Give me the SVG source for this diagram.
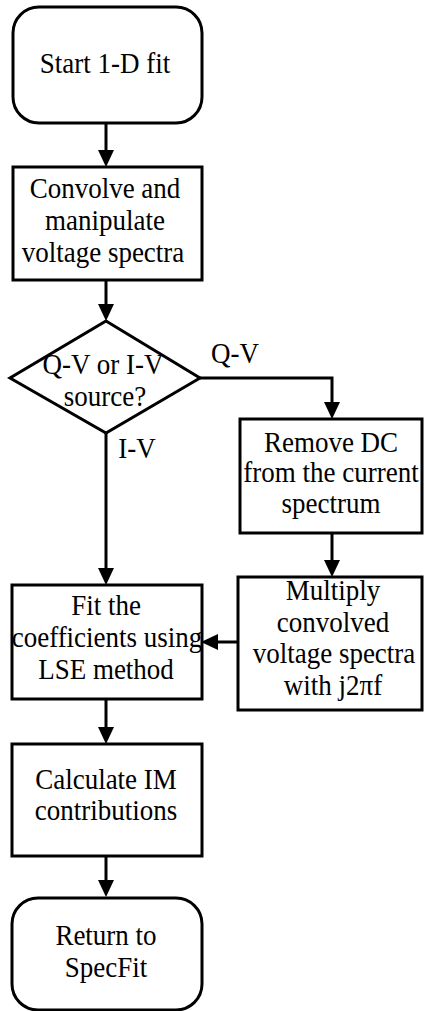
<svg xmlns="http://www.w3.org/2000/svg" width="424" height="1011" viewBox="0 0 424 1011">
<style>
.box{fill:#fff;stroke:#000;stroke-width:3}
.t{font-family:"Liberation Serif","Times New Roman",serif;font-size:27px;fill:#000;text-anchor:middle}
.c{fill:none;stroke:#000;stroke-width:3}
</style>
<defs>
<marker id="ah" markerUnits="userSpaceOnUse" markerWidth="17" markerHeight="17" refX="8" refY="8" orient="auto" viewBox="0 0 17 16">
<path d="M0,0 L17,8 L0,16 z" fill="#000"/>
</marker>
</defs>
<rect width="424" height="1011" fill="#fff"/>
<g id="start"><rect class="box" x="13" y="7" width="189" height="116" rx="26"/><text class="t" transform="translate(105,73) scale(1,1.1)">Start 1-D fit</text></g>
<g id="convolve"><rect class="box" x="13" y="167" width="189" height="113"/><text class="t" transform="translate(105,198) scale(1,1.1)">Convolve and</text><text class="t" transform="translate(105,230) scale(1,1.1)">manipulate</text><text class="t" transform="translate(103,262) scale(1,1.1)">voltage spectra</text></g>
<g id="decision"><polygon class="box" points="106,321 200,378 106,433 10,378"/><text class="t" transform="translate(103,374) scale(1,1.1)">Q-V or I-V</text><text class="t" transform="translate(105,406) scale(1,1.1)">source?</text></g>
<g id="removedc"><rect class="box" x="240" y="419" width="182" height="114"/><text class="t" transform="translate(331,452) scale(1,1.1)">Remove DC</text><text class="t" transform="translate(331,482) scale(1,1.1)">from the current</text><text class="t" transform="translate(331,513) scale(1,1.1)">spectrum</text></g>
<g id="multiply"><rect class="box" x="238" y="577" width="184" height="133"/><text class="t" transform="translate(333,600) scale(1,1.1)">Multiply</text><text class="t" transform="translate(333,632) scale(1,1.1)">convolved</text><text class="t" transform="translate(334,663) scale(1,1.1)">voltage spectra</text><text class="t" transform="translate(333,695) scale(1,1.1)">with j2πf</text></g>
<g id="fit"><rect class="box" x="12" y="585" width="190" height="114"/><text class="t" transform="translate(106,615) scale(1,1.1)">Fit the</text><text class="t" transform="translate(107,647) scale(1,1.1)">coefficients using</text><text class="t" transform="translate(106,679) scale(1,1.1)">LSE method</text></g>
<g id="calc"><rect class="box" x="12" y="744" width="190" height="112"/><text class="t" transform="translate(106,789) scale(1,1.1)">Calculate IM</text><text class="t" transform="translate(106,820) scale(1,1.1)">contributions</text></g>
<g id="return"><rect class="box" x="12" y="898" width="190" height="112" rx="26"/><text class="t" transform="translate(106,945) scale(1,1.1)">Return to</text><text class="t" transform="translate(106,977) scale(1,1.1)">SpecFit</text></g>
<g id="connectors">
<path class="c" d="M106,123 V158" marker-end="url(#ah)"/>
<path class="c" d="M106,280 V312" marker-end="url(#ah)"/>
<path class="c" d="M200,378 H332 V410" marker-end="url(#ah)"/>
<path class="c" d="M106,433 V576" marker-end="url(#ah)"/>
<path class="c" d="M332,533 V568" marker-end="url(#ah)"/>
<path class="c" d="M238,642 H210" marker-end="url(#ah)"/>
<path class="c" d="M106,699 V735" marker-end="url(#ah)"/>
<path class="c" d="M106,856 V888" marker-end="url(#ah)"/>
<text class="t" transform="translate(235,363) scale(1,1.1)">Q-V</text>
<text class="t" transform="translate(137,458) scale(1,1.1)">I-V</text>
</g>
</svg>
